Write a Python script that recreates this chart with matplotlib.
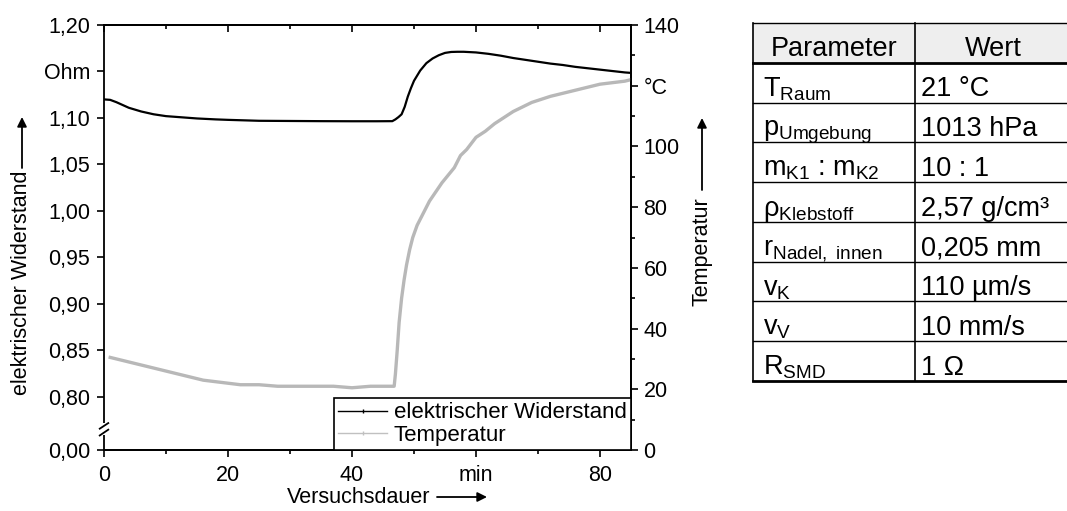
import matplotlib
matplotlib.use('Agg')
import matplotlib.pyplot as plt
from matplotlib.lines import Line2D
from matplotlib.patches import Rectangle

plt.rcParams['font.family'] = ['Liberation Sans', 'DejaVu Sans']
plt.rcParams['mathtext.fontset'] = 'custom'
plt.rcParams['mathtext.rm'] = 'Liberation Sans'
plt.rcParams['mathtext.it'] = 'Liberation Sans:italic'
plt.rcParams['mathtext.bf'] = 'Liberation Sans:bold'

# elektrischer Widerstand (Ohm) ueber Versuchsdauer (min)
t_res = [0, 1, 2, 3, 4, 5, 6, 8, 10, 12, 15, 18, 20, 25, 30, 35, 40, 44, 46.5, 47,
         47.5, 48, 48.5, 49, 49.5, 50, 51, 52, 53, 54, 55, 56, 57, 58, 60, 62, 64,
         66, 68, 70, 72, 74, 76, 78, 80, 82, 84, 85]
res = [1.120, 1.1195, 1.117, 1.114, 1.111, 1.109, 1.107, 1.104, 1.102, 1.101, 1.0995,
       1.0985, 1.098, 1.097, 1.0968, 1.0966, 1.0965, 1.0965, 1.0966, 1.0985, 1.101,
       1.104, 1.112, 1.123, 1.132, 1.140, 1.151, 1.159, 1.164, 1.1675, 1.170, 1.171,
       1.1712, 1.1712, 1.1705, 1.169, 1.167, 1.1645, 1.1625, 1.1605, 1.1585, 1.157,
       1.155, 1.1535, 1.152, 1.1505, 1.149, 1.1485]

# Temperatur (°C)
t_temp = [1, 2, 3, 4, 5, 6, 7, 8, 9, 10, 12, 14, 16, 18, 20, 22, 25, 28, 31, 34, 37,
          40, 43, 46, 46.8, 47.0, 47.3, 47.6, 48.0, 48.4, 48.8, 49.3, 49.8, 50.5,
          51.5, 52.5, 53.5, 54.5, 55.5, 56.5, 57.5, 58.5, 60, 61.5, 63, 64.5, 66,
          67.5, 69, 70.5, 72, 74, 76, 78, 80, 82, 84, 85]
temp = [30.5, 30, 29.5, 29, 28.5, 28, 27.5, 27, 26.5, 26, 25, 24, 23, 22.5, 22, 21.5,
        21.5, 21, 21, 21, 21, 20.5, 21, 21, 21, 25, 33, 42, 50, 56, 61, 66, 70, 74,
        78, 82, 85, 88, 90.5, 93, 97, 99, 103, 105, 107.5, 109.5, 111.5, 113, 114.5,
        115.5, 116.5, 117.5, 118.5, 119.5, 120.5, 121, 121.5, 122]

x_ticks = [0, 20, 40, 60, 80]
x_labels = ['0', '20', '40', 'min', '80']
x_minor = [10, 30, 50, 70]
r_bottom = 0.743
r_ticks = [r_bottom, 0.80, 0.85, 0.90, 0.95, 1.00, 1.05, 1.10, 1.15, 1.20]
r_labels = ['0,00', '0,80', '0,85', '0,90', '0,95', '1,00', '1,05', '1,10', 'Ohm', '1,20']
temp_ticks = [0, 20, 40, 60, 80, 100, 120, 140]
temp_labels = ['0', '20', '40', '60', '80', '100', '°C', '140']
temp_minor = [10, 30, 50, 70, 90, 110, 130]

params = ['T$_{\\mathrm{Raum}}$', 'p$_{\\mathrm{Umgebung}}$',
          'm$_{\\mathrm{K1}}$ : m$_{\\mathrm{K2}}$', 'ρ$_{\\mathrm{Klebstoff}}$',
          'r$_{\\mathrm{Nadel,\\ innen}}$', 'v$_{\\mathrm{K}}$', 'v$_{\\mathrm{V}}$',
          'R$_{\\mathrm{SMD}}$']
values = ['21 °C', '1013 hPa', '10 : 1', '2,57 g/cm³', '0,205 mm', '110 µm/s',
          '10 mm/s', '1 Ω']

W, H = 1067, 511
fig = plt.figure(figsize=(W / 100, H / 100), dpi=100)
fs = 15.5


def box(l, t, r, b):
    return [l / W, 1 - b / H, (r - l) / W, (b - t) / H]


ax = fig.add_axes(box(104, 25, 631, 450))
ax.plot(t_res, res, color='black', lw=1.6)
ax.set_xlim(0, 85)
ax.set_ylim(r_bottom, 1.20)
ax.set_xticks(x_ticks)
ax.set_xticklabels(x_labels)
ax.set_xticks(x_minor, minor=True)
ax.set_yticks(r_ticks)
ax.set_yticklabels(r_labels)
ax.tick_params(axis='both', direction='out', length=5, width=1.2, labelsize=fs)
ax.tick_params(axis='x', which='minor', length=3, width=1.2)
ax.tick_params(axis='x', pad=6)
ax.tick_params(axis='y', pad=5)
ax.tick_params(top=False, right=False)
for s in ax.spines.values():
    s.set_linewidth(1.3)
ax.spines['left'].set_visible(False)

# linke Achse mit Unterbrechung
kw = dict(transform=ax.transAxes, color='black', lw=1.3, clip_on=False, solid_capstyle='butt')
ax.plot([0, 0], [0.0635, 1], **kw)
ax.plot([0, 0], [0, 0.035], **kw)
ax.plot([-0.0095, 0.0095], [0.049, 0.0645], **kw)
ax.plot([-0.0095, 0.0095], [0.033, 0.049], **kw)

top = ax.secondary_xaxis('top')
top.set_xticks(x_ticks)
top.set_xticks(x_minor, minor=True)
top.tick_params(direction='in', which='both', labeltop=False, width=1.2)
top.tick_params(which='major', length=5)
top.tick_params(which='minor', length=3)
top.spines['top'].set_linewidth(1.3)

ax2 = ax.twinx()
ax2.plot(t_temp, temp, color='#b8b8b8', lw=2.4)
ax2.set_ylim(0, 140)
ax2.set_yticks(temp_ticks)
ax2.set_yticklabels(temp_labels)
ax2.set_yticks(temp_minor, minor=True)
ax2.tick_params(axis='y', direction='out', length=5, width=1.2, labelsize=fs, pad=4)
ax2.tick_params(axis='y', which='minor', length=3, width=1.2)
for s in ax2.spines.values():
    s.set_linewidth(1.3)
ax2.spines['left'].set_visible(False)

handles = [Line2D([], [], color='black', lw=1, marker='|', markersize=3),
           Line2D([], [], color='#c0c0c0', lw=1, marker='|', markersize=3)]
leg = ax2.legend(handles, ['elektrischer Widerstand', 'Temperatur'], loc='lower right',
                 bbox_to_anchor=(1, 0), borderaxespad=0, fancybox=False, framealpha=1,
                 edgecolor='black', fontsize=16, handlelength=2.2, handletextpad=0.3,
                 labelspacing=0.05, borderpad=0.2, numpoints=1)
leg.get_frame().set_linewidth(1.2)

# Achsbeschriftungen mit Pfeilen
def px(x, y):
    return (x / W, 1 - y / H)


arrow = dict(arrowstyle='-|>', color='black', lw=1.3, mutation_scale=14, shrinkA=0, shrinkB=0)
fig.text(*px(22, 283), 'elektrischer Widerstand', rotation=90, ha='center', va='center', fontsize=fs)
fig.add_artist(plt.Annotation('', xy=px(22, 117), xytext=px(22, 168), xycoords='figure fraction',
                              textcoords='figure fraction', arrowprops=arrow))
fig.text(*px(702, 252), 'Temperatur', rotation=90, ha='center', va='center', fontsize=fs)
fig.add_artist(plt.Annotation('', xy=px(702, 118), xytext=px(702, 190), xycoords='figure fraction',
                              textcoords='figure fraction', arrowprops=arrow))
fig.text(*px(359, 497), 'Versuchsdauer', ha='center', va='center', fontsize=fs)
fig.add_artist(plt.Annotation('', xy=px(487, 497), xytext=px(437, 497), xycoords='figure fraction',
                              textcoords='figure fraction', arrowprops=arrow))

# Parametertabelle
tab = fig.add_axes(box(753, 23, 1070, 381))
tab.set_xlim(753, 1070)
tab.set_ylim(len(params) + 1, 0)
tab.axis('off')
tab.add_patch(Rectangle((753, 0), 317, 1, facecolor='#eeeeee', edgecolor='none'))
for i in range(len(params) + 2):
    lw = 2.0 if i in (1, len(params) + 1) else 1.0
    tab.plot([753, 1070], [i, i], color='black', lw=lw, clip_on=False)
for x in (753, 915):
    tab.plot([x, x], [0, len(params) + 1], color='black', lw=1.2, clip_on=False)
tab.text(834, 1 - 0.16, 'Parameter', ha='center', va='baseline', fontsize=19.5)
tab.text(993, 1 - 0.16, 'Wert', ha='center', va='baseline', fontsize=19.5)
for i, (p, v) in enumerate(zip(params, values)):
    tab.text(763, i + 2 - 0.16, p, ha='left', va='baseline', fontsize=19.5)
    tab.text(921, i + 2 - 0.16, v, ha='left', va='baseline', fontsize=19.5)

fig.savefig('out.png', dpi=100)
